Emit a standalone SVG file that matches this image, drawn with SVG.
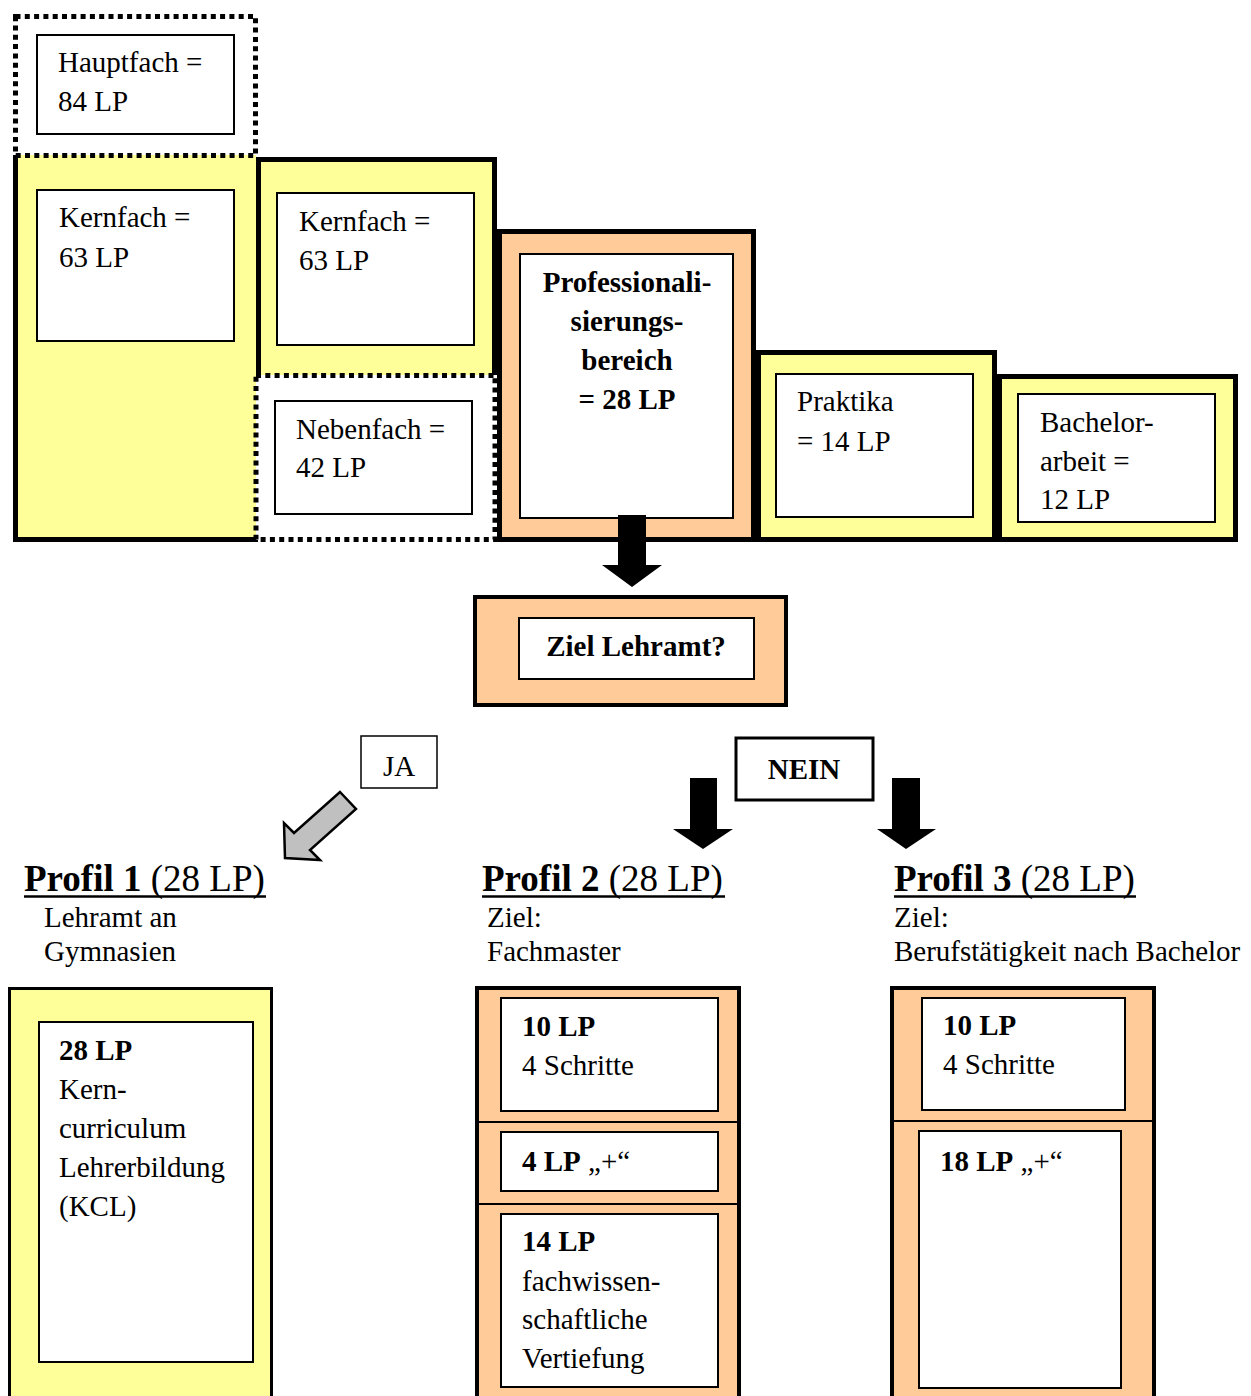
<svg xmlns="http://www.w3.org/2000/svg" width="1251" height="1396" viewBox="0 0 1251 1396">
<style>
text{font-family:"Liberation Serif","Times New Roman",serif;font-size:29px;fill:#000}
.b{font-weight:bold}
.h{font-size:37px}
.ul{stroke:#000;stroke-width:2.5}
.y{fill:#FFFF99}
.o{fill:#FFCC99}
.thick{fill:none;stroke:#000;stroke-width:5}
.inner{fill:#fff;stroke:#000;stroke-width:2}
.dot{fill:none;stroke:#000;stroke-width:5;stroke-dasharray:5 4.3}
.arr{fill:#000}
</style>
<rect width="1251" height="1396" fill="#fff"/>

<g id="kernfach1">
<rect class="y" x="13" y="155" width="243" height="387"/>
<path class="thick" d="M15.5,155 V539.5 H258"/>
<rect class="inner" x="37" y="190" width="197" height="151"/>
<text x="59" y="227">Kernfach =</text>
<text x="59" y="267">63 LP</text>
</g>

<g id="kernfach2">
<rect class="y" x="256" y="157" width="241" height="218"/>
<path class="thick" d="M258.5,375 V159.5 H494.5 V375"/>
<rect class="inner" x="277" y="193" width="197" height="152"/>
<text x="299" y="231">Kernfach =</text>
<text x="299" y="270">63 LP</text>
</g>

<g id="nebenfach">
<rect fill="#fff" x="256" y="375" width="239" height="165"/>
<rect class="dot" x="256" y="375.5" width="239" height="164"/>
<rect class="inner" x="275" y="401" width="197" height="113"/>
<text x="296" y="439">Nebenfach =</text>
<text x="296" y="477">42 LP</text>
</g>

<g id="hauptfach">
<rect class="dot" x="15.5" y="16.5" width="240" height="139"/>
<rect class="inner" x="37" y="35" width="197" height="99"/>
<text x="58" y="72">Hauptfach =</text>
<text x="58" y="111">84 LP</text>
</g>

<g id="professionalisierung">
<rect class="o" x="499.5" y="231.5" width="254" height="308"/>
<rect class="thick" x="499.5" y="231.5" width="254" height="308"/>
<rect class="inner" x="520" y="254" width="213" height="264"/>
<text class="b" x="627" y="292" text-anchor="middle">Professionali-</text>
<text class="b" x="627" y="331" text-anchor="middle">sierungs-</text>
<text class="b" x="627" y="370" text-anchor="middle">bereich</text>
<text class="b" x="627" y="409" text-anchor="middle">= 28 LP</text>
</g>

<g id="praktika">
<rect class="y" x="758.5" y="352.5" width="236" height="187"/>
<rect class="thick" x="758.5" y="352.5" width="236" height="187"/>
<rect class="inner" x="776" y="374" width="197" height="143"/>
<text x="797" y="411">Praktika</text>
<text x="797" y="451">= 14 LP</text>
</g>

<g id="bachelorarbeit">
<rect class="y" x="999.5" y="376.5" width="236" height="163"/>
<rect class="thick" x="999.5" y="376.5" width="236" height="163"/>
<rect class="inner" x="1018" y="394" width="197" height="128"/>
<text x="1040" y="432">Bachelor-</text>
<text x="1040" y="471">arbeit =</text>
<text x="1040" y="509">12 LP</text>
</g>

<g id="ziel-lehramt">
<rect class="o" x="475" y="597" width="311" height="108" stroke="#000" stroke-width="4"/>
<rect class="inner" x="519" y="618" width="235" height="61"/>
<text class="b" x="636" y="656" text-anchor="middle">Ziel Lehramt?</text>
</g>

<g id="ja">
<rect x="361" y="736" width="76" height="52" fill="#fff" stroke="#000" stroke-width="1.5"/>
<text x="399" y="776" text-anchor="middle">JA</text>
</g>

<g id="nein">
<rect x="736" y="738" width="137" height="62" fill="#fff" stroke="#000" stroke-width="3"/>
<text class="b" x="804" y="779" text-anchor="middle">NEIN</text>
</g>

<g id="connectors">
<polygon class="arr" points="618,515 646,515 646,565 662,565 632,587 602,565 618,565"/>
<polygon class="arr" points="690,778 717,778 717,829 733,829 703,849 673,829 690,829"/>
<polygon class="arr" points="892,778 920,778 920,829 936,829 906,849 877,829 892,829"/>
<polygon points="340,792 356,809 310,850 320,860 285,858 284,823 294,833" fill="#C0C0C0" stroke="#000" stroke-width="2.5" stroke-linejoin="miter"/>
</g>

<g id="profil1">
<text class="h" x="24" y="891"><tspan class="b">Profil 1</tspan> (28 LP)</text>
<line class="ul" x1="24" y1="896.5" x2="266" y2="896.5"/>
<text x="44" y="927">Lehramt an</text>
<text x="44" y="961">Gymnasien</text>
<rect class="y" x="9.5" y="988.5" width="262" height="420" stroke="#000" stroke-width="3"/>
<rect class="inner" x="39" y="1022" width="214" height="340"/>
<text class="b" x="59" y="1060">28 LP</text>
<text x="59" y="1099">Kern-</text>
<text x="59" y="1138">curriculum</text>
<text x="59" y="1177">Lehrerbildung</text>
<text x="59" y="1216">(KCL)</text>
</g>

<g id="profil2">
<text class="h" x="482" y="891"><tspan class="b">Profil 2</tspan> (28 LP)</text>
<line class="ul" x1="482" y1="896.5" x2="725" y2="896.5"/>
<text x="487" y="927">Ziel:</text>
<text x="487" y="961">Fachmaster</text>
<rect class="o" x="477" y="988" width="262" height="420" stroke="#000" stroke-width="4"/>
<line x1="477" y1="1122" x2="739" y2="1122" stroke="#000" stroke-width="2"/>
<line x1="477" y1="1204" x2="739" y2="1204" stroke="#000" stroke-width="2"/>
<rect class="inner" x="501" y="998" width="217" height="113"/>
<text class="b" x="522" y="1036">10 LP</text>
<text x="522" y="1075">4 Schritte</text>
<rect class="inner" x="501" y="1132" width="217" height="59"/>
<text x="522" y="1171"><tspan class="b">4 LP</tspan> „+“</text>
<rect class="inner" x="501" y="1214" width="217" height="173"/>
<text class="b" x="522" y="1251">14 LP</text>
<text x="522" y="1291">fachwissen-</text>
<text x="522" y="1329">schaftliche</text>
<text x="522" y="1368">Vertiefung</text>
</g>

<g id="profil3">
<text class="h" x="894" y="891"><tspan class="b">Profil 3</tspan> (28 LP)</text>
<line class="ul" x1="894" y1="896.5" x2="1136" y2="896.5"/>
<text x="894" y="927">Ziel:</text>
<text x="894" y="961">Berufstätigkeit nach Bachelor</text>
<rect class="o" x="892" y="988" width="262" height="420" stroke="#000" stroke-width="4"/>
<line x1="892" y1="1121" x2="1154" y2="1121" stroke="#000" stroke-width="2"/>
<rect class="inner" x="922" y="998" width="203" height="112"/>
<text class="b" x="943" y="1035">10 LP</text>
<text x="943" y="1074">4 Schritte</text>
<rect class="inner" x="919" y="1131" width="202" height="257"/>
<text x="940" y="1171"><tspan class="b">18 LP</tspan> „+“</text>
</g>
</svg>
